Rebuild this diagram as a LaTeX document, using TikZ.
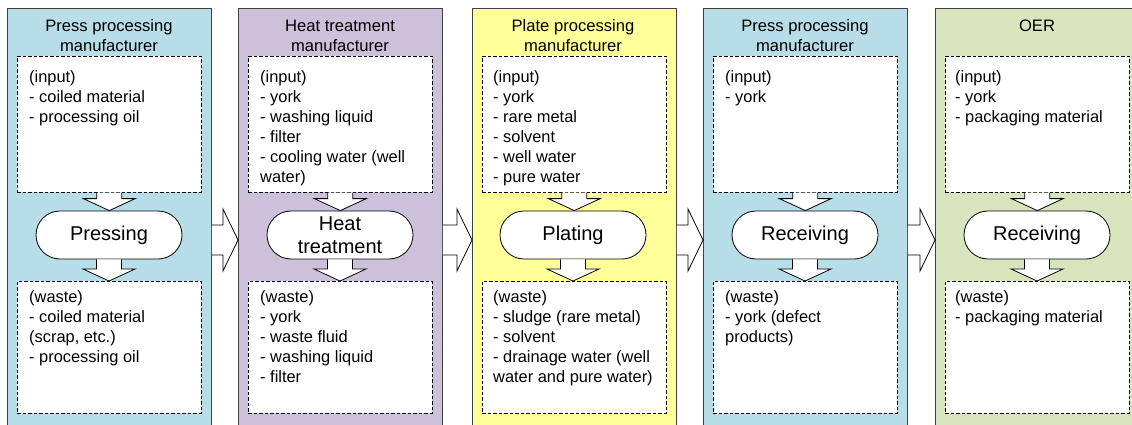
\documentclass[tikz,border=0pt]{standalone}
\usepackage{fontspec}
\setmainfont{Liberation Sans}
\usetikzlibrary{calc}
\definecolor{cblue}{HTML}{B7DDE8}
\definecolor{cpurple}{HTML}{CCC0DA}
\definecolor{cyellow}{HTML}{FFFF99}
\definecolor{cgreen}{HTML}{D7E4BC}
\definecolor{edge}{HTML}{404040}
\tikzset{
  colbox/.style={draw=edge, line width=0.8pt, anchor=north west, minimum width=204pt, minimum height=430pt, inner sep=0pt},
  dbox/.style={draw=black, fill=white, line width=0.6pt, dash pattern=on 3.5pt off 2pt, anchor=north west, minimum width=184pt, inner sep=0pt},
  proc/.style={draw=black, fill=white, line width=0.8pt, rounded corners=24pt, minimum width=146pt, minimum height=48pt, inner sep=0pt, align=center, font=\fontsize{20}{23}\selectfont},
  txt/.style={anchor=north west, inner sep=0pt, align=left, font=\fontsize{16.4}{20}\selectfont},
  ttl/.style={anchor=north, inner sep=0pt, align=center, font=\fontsize{16.6}{20}\selectfont},
  arr/.style={draw=black, fill=white, line width=0.8pt, line join=miter},
}
\newcommand\vArrow[2]{\draw[arr] let \p1=(#1.south), \p2=(#2.north) in
  (\x1-12.5pt,\y1) -- (\x1-12.5pt,\y2+12pt) -- (\x1-26pt,\y2+12pt) -- (\x1,\y2)
  -- (\x1+26pt,\y2+12pt) -- (\x1+12.5pt,\y2+12pt) -- (\x1+12.5pt,\y1);}
\newcommand\hArrow[2]{\draw[arr] let \p1=(#1.north east), \p2=(#2.north west), \p3=(0,240) in
  (\x1,\y3+15pt) -- (\x2-15pt,\y3+15pt) -- (\x2-15pt,\y3+31pt) -- (\x2,\y3)
  -- (\x2-15pt,\y3-31pt) -- (\x2-15pt,\y3-15pt) -- (\x1,\y3-15pt);}
\begin{document}
\begin{tikzpicture}[x=1pt,y=-1pt]
\path[use as bounding box] (0,0) rectangle (1132,425);
\clip (0,0) rectangle (1132,425);
% columns
\node[colbox, fill=cblue]   (c1) at (7,8) {};
\node[colbox, fill=cpurple] (c2) at (238,8) {};
\node[colbox, fill=cyellow] (c3) at (472,8) {};
\node[colbox, fill=cblue]   (c4) at (703,8) {};
\node[colbox, fill=cgreen]  (c5) at (935,8) {};
% titles
\node[ttl] (t1) at (109,17) {\strut Press processing\\manufacturer};
\node[ttl] (t2) at (340,17) {\strut Heat treatment\\manufacturer};
\node[ttl] (t3) at (573,17) {\strut Plate processing\\manufacturer};
\node[ttl] (t4) at (805,17) {\strut Press processing\\manufacturer};
\node[ttl] (t5) at (1037,17) {\strut OER};
% input boxes
\node[dbox, minimum height=136pt] (i1) at (17,56) {};
\node[dbox, minimum height=136pt] (i2) at (248,56) {};
\node[dbox, minimum height=136pt] (i3) at (482,56) {};
\node[dbox, minimum height=136pt] (i4) at (713,56) {};
\node[dbox, minimum height=136pt] (i5) at (945,56) {};
% waste boxes
\node[dbox, minimum height=132pt] (w1) at (17,281) {};
\node[dbox, minimum height=132pt] (w2) at (248,281) {};
\node[dbox, minimum height=132pt] (w3) at (482,281) {};
\node[dbox, minimum height=132pt] (w4) at (713,281) {};
\node[dbox, minimum height=132pt] (w5) at (945,281) {};
% input texts
\node[txt] (it1) at (29,68.5) {\strut(input)\\- coiled material\\- processing oil};
\node[txt] (it2) at (260,68.5) {\strut(input)\\- york\\- washing liquid\\- filter\\- cooling water (well\\water)};
\node[txt] (it3) at (493,68.5) {\strut(input)\\- york\\- rare metal\\- solvent\\- well water\\- pure water};
\node[txt] (it4) at (725,68.5) {\strut(input)\\- york};
\node[txt] (it5) at (955,68.5) {\strut(input)\\- york\\- packaging material};
% waste texts
\node[txt] (wt1) at (29,288.5) {\strut(waste)\\- coiled material\\(scrap, etc.)\\- processing oil};
\node[txt] (wt2) at (260,288.5) {\strut(waste)\\- york\\- waste fluid\\- washing liquid\\- filter};
\node[txt] (wt3) at (493,288.5) {\strut(waste)\\- sludge (rare metal)\\- solvent\\- drainage water (well\\water and pure water)};
\node[txt] (wt4) at (725,288.5) {\strut(waste)\\- york (defect\\products)};
\node[txt] (wt5) at (955,288.5) {\strut(waste)\\- packaging material};
% process nodes
\node[proc] (p1) at (109,235) {Pressing};
\node[proc] (p2) at (340,235) {Heat\\treatment};
\node[proc] (p3) at (573,235) {Plating};
\node[proc] (p4) at (805,235) {Receiving};
\node[proc] (p5) at (1037,235) {Receiving};
% vertical arrows
\vArrow{i1}{p1}\vArrow{p1}{w1}
\vArrow{i2}{p2}\vArrow{p2}{w2}
\vArrow{i3}{p3}\vArrow{p3}{w3}
\vArrow{i4}{p4}\vArrow{p4}{w4}
\vArrow{i5}{p5}\vArrow{p5}{w5}
% horizontal arrows
\hArrow{c1}{c2}
\hArrow{c2}{c3}
\hArrow{c3}{c4}
\hArrow{c4}{c5}
\end{tikzpicture}
\end{document}
